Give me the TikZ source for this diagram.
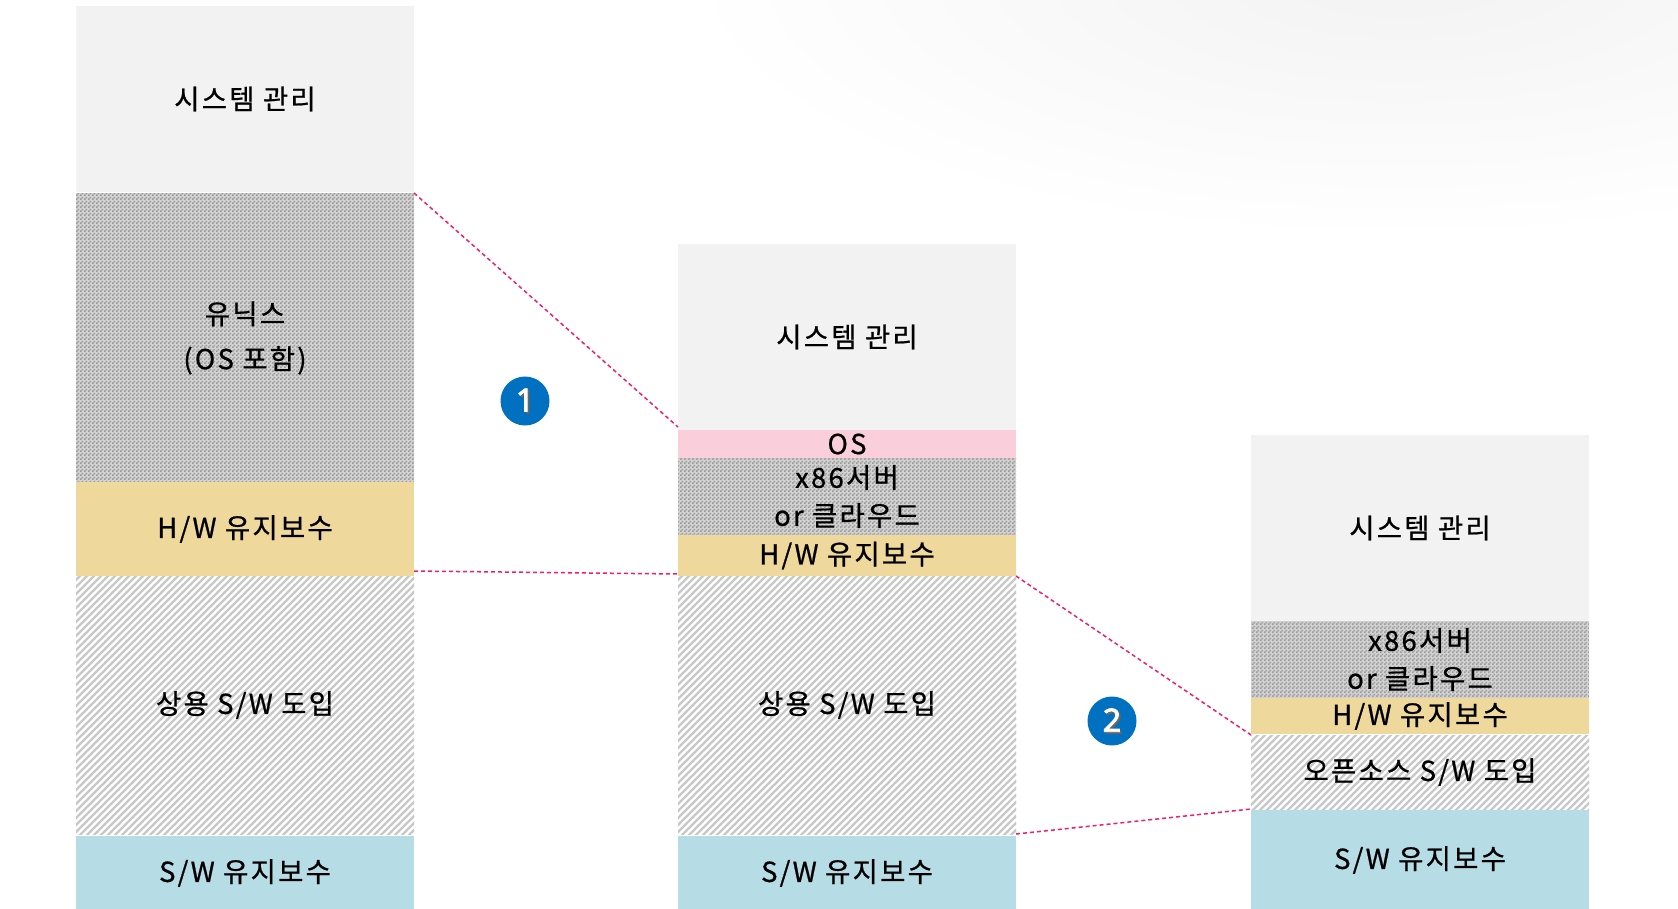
\documentclass[tikz,border=0pt]{standalone}
\usepackage{fontspec}
\setmainfont{Noto Sans CJK KR}[FakeBold=0.7, LetterSpace=8]
\newfontfamily\numfont{Noto Sans}[FakeBold=2.5]
\usetikzlibrary{patterns}
\pgfdeclarepatternformonly{chk}{\pgfpointorigin}{\pgfqpoint{4pt}{4pt}}{\pgfqpoint{4pt}{4pt}}{%
  \pgfpathrectangle{\pgfpointorigin}{\pgfqpoint{2pt}{2pt}}%
  \pgfpathrectangle{\pgfqpoint{2pt}{2pt}}{\pgfqpoint{2pt}{2pt}}%
  \pgfusepath{fill}}
\pgfdeclarepatternformonly{hatch}{\pgfqpoint{-1pt}{-1pt}}{\pgfqpoint{8pt}{8pt}}{\pgfqpoint{7pt}{7pt}}{%
  \pgfsetlinewidth{2.2pt}%
  \pgfpathmoveto{\pgfqpoint{-1pt}{-1pt}}\pgfpathlineto{\pgfqpoint{8pt}{8pt}}%
  \pgfusepath{stroke}}
\definecolor{lgray}{RGB}{242,242,242}
\definecolor{hwy}{RGB}{239,216,155}
\definecolor{osp}{RGB}{250,206,218}
\definecolor{swb}{RGB}{182,220,230}
\definecolor{chkbg}{RGB}{210,210,210}
\definecolor{chkfg}{RGB}{155,155,155}
\definecolor{hatchc}{RGB}{200,200,200}
\definecolor{dashc}{RGB}{240,30,110}
\definecolor{circ}{RGB}{0,112,192}
\newcommand\badgenum[1]{{\numfont\fontsize{32}{32}\selectfont\rlap{\kern1.8pt\raisebox{-1.8pt}{\textcolor{black!60}{#1}}}\textcolor{white}{#1}}}
\tikzset{
  blk/.style={rectangle, inner sep=0pt, outer sep=0pt, minimum width=338pt, align=center, text=black, font=\fontsize{27.5}{38}\selectfont},
  sysb/.style={blk, fill=lgray},
  chkb/.style={blk, preaction={fill=chkbg}, pattern=chk, pattern color=chkfg},
  hatb/.style={blk, preaction={fill=white}, pattern=hatch, pattern color=hatchc},
  hwb/.style={blk, fill=hwy},
  osb/.style={blk, fill=osp},
  swmb/.style={blk, fill=swb},
  link/.style={draw=dashc, line width=1.5pt, dash pattern=on 4pt off 3pt},
  badge/.style={circle, fill=circ, minimum size=49pt, inner sep=0pt},
}
\begin{document}
\begin{tikzpicture}[x=1pt,y=-1pt]
\fill[white] (0,0) rectangle (1678,908);
\useasboundingbox (0,0) rectangle (1678,908);
\begin{scope}
  \clip (0,0) rectangle (1678,908);
  \shade[inner color=black!5, outer color=white] (1400,-30) ellipse [x radius=720, y radius=270];
\end{scope}
% left column
\node[sysb, minimum height=186pt] (Lsys) at (245,99) {시스템 관리};
\node[chkb, minimum height=290pt, font=\fontsize{27.5}{45}\selectfont] (Lunix) at (245,338) {유닉스\\(OS 포함)};
\node[hwb, minimum height=94pt] (Lhw) at (245,529) {H/W 유지보수};
\node[hatb, minimum height=258pt] (Lsw) at (245,705) {상용 S/W 도입};
\node[swmb, minimum height=74pt] (Lswm) at (245,873) {S/W 유지보수};
% middle column
\node[sysb, minimum height=186pt] (Msys) at (847,337) {시스템 관리};
\node[osb, minimum height=28pt] (Mos) at (847,444) {OS};
\node[chkb, minimum height=77pt] (Mx86) at (847,496.5) {x86서버\\or 클라우드};
\node[hwb, minimum height=41pt] (Mhw) at (847,555.5) {H/W 유지보수};
\node[hatb, minimum height=258pt] (Msw) at (847,705) {상용 S/W 도입};
\node[swmb, minimum height=74pt] (Mswm) at (847,873) {S/W 유지보수};
% right column
\node[sysb, minimum height=186pt] (Rsys) at (1420,528) {시스템 관리};
\node[chkb, minimum height=77pt] (Rx86) at (1420,659.5) {x86서버\\or 클라우드};
\node[hwb, minimum height=36pt] (Rhw) at (1420,716) {H/W 유지보수};
\node[hatb, minimum height=74pt] (Ross) at (1420,772) {오픈소스 S/W 도입};
\node[swmb, minimum height=100pt] (Rswm) at (1420,860) {S/W 유지보수};
% connectors
\draw[link] (Lunix.north east) -- ([yshift=3pt]Mos.north west);
\draw[link] ([yshift=5pt]Lhw.south east) -- ([yshift=2pt]Mhw.south west);
\draw[link] (Mhw.south east) -- (Ross.north west);
\draw[link] (Msw.south east) -- (Ross.south west);
% badges
\node[badge] (b1) at (525,401) {\badgenum{1}};
\node[badge] (b2) at (1112,721) {\badgenum{2}};
\end{tikzpicture}
\end{document}
